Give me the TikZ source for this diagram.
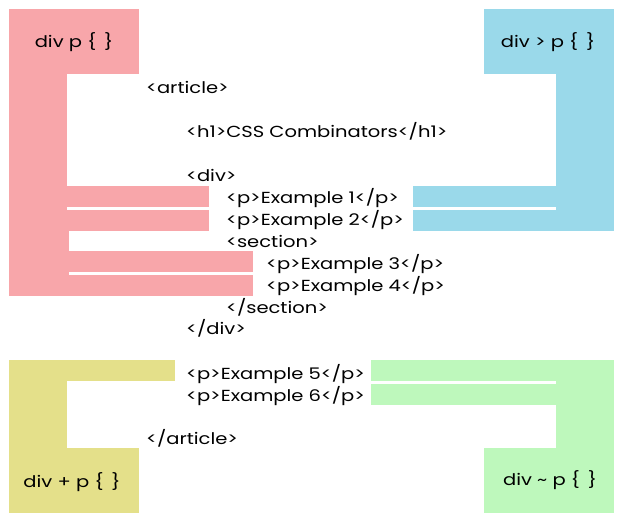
\documentclass[tikz,border=0pt]{standalone}
\usepackage{fontspec}
\setmainfont[FakeStretch=1.22]{Poppins}
\usepackage{xcolor}
\definecolor{pinkbar}{RGB}{248,166,170}
\definecolor{bluebar}{RGB}{154,217,234}
\definecolor{yellowbar}{RGB}{228,224,138}
\definecolor{greenbar}{RGB}{190,248,188}

\begin{document}
\begin{tikzpicture}[x=1pt, y=-1pt]
            \tikzset{code/.style={anchor=base west, inner sep=0pt, font=\fontsize{16}{18}\selectfont},
                     rule/.style={anchor=base, inner sep=0pt, font=\fontsize{16}{18}\selectfont}}
            \useasboundingbox (0, 0) rectangle (624, 522);
            % descendant: div p
            \fill[pinkbar] (9, 9) rectangle (139, 74);
            \fill[pinkbar] (9, 9) rectangle (67, 231);
            \fill[pinkbar] (9, 231) rectangle (69, 296);
            \foreach \y/\r in {186/209, 210/209, 251/253, 275/253} {
                \fill[pinkbar] (60, \y) rectangle (\r, \y + 21);
            }
            % child: div > p
            \fill[bluebar] (484, 9) rectangle (614, 74);
            \fill[bluebar] (556, 9) rectangle (614, 231);
            \foreach \y in {186, 210} {
                \fill[bluebar] (413, \y) rectangle (560, \y + 21);
            }
            % adjacent sibling: div + p
            \fill[yellowbar] (9, 360) rectangle (175, 381);
            \fill[yellowbar] (9, 360) rectangle (67, 513);
            \fill[yellowbar] (9, 448) rectangle (139, 513);
            % general sibling: div ~ p
            \fill[greenbar] (556, 360) rectangle (614, 513);
            \fill[greenbar] (484, 448) rectangle (614, 513);
            \foreach \y in {360, 384} {
                \fill[greenbar] (371, \y) rectangle (560, \y + 21);
            }
            \fill[greenbar] (371, 360) rectangle (614, 381);
            % html source
            \node[code] (article) at (146, 93) {<article>};
            \node[code] (h1) at (186, 137) {<h1>CSS Combinators</h1>};
            \node[code] (div) at (186, 181) {<div>};
            \node[code] (ex1) at (226, 203) {<p>Example 1</p>};
            \node[code] (ex2) at (226, 225) {<p>Example 2</p>};
            \node[code] (section) at (226, 247) {<section>};
            \node[code] (ex3) at (266, 269) {<p>Example 3</p>};
            \node[code] (ex4) at (266, 291) {<p>Example 4</p>};
            \node[code] (endsection) at (226, 313) {</section>};
            \node[code] (enddiv) at (186, 334) {</div>};
            \node[code] (ex5) at (186, 379) {<p>Example 5</p>};
            \node[code] (ex6) at (186, 401) {<p>Example 6</p>};
            \node[code] (endarticle) at (146, 444) {</article>};
            % selectors
            \node[rule] (descendant) at (74, 47) {div p \{\ \,\}};
            \node[rule] (child) at (548, 47) {div > p \{\ \,\}};
            \node[rule] (adjacent) at (72, 487) {div + p \{\ \,\}};
            \node[rule] (general) at (550, 485) {div \textasciitilde\ p \{\ \,\}};
        \end{tikzpicture}
\end{document}
